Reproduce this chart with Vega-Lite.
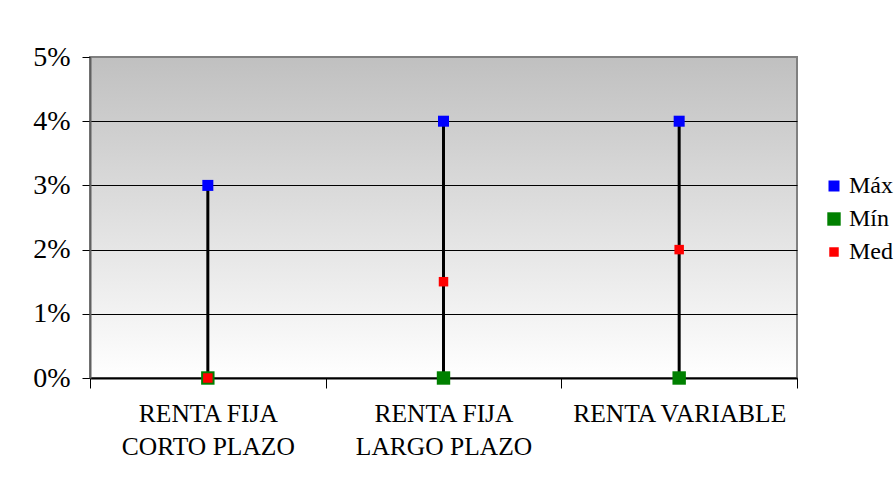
{
  "$schema": "https://vega.github.io/schema/vega-lite/v6.json",
  "width": 707,
  "height": 321,
  "autosize": {"type": "none"},
  "padding": {"left": 90, "top": 57, "right": 99, "bottom": 105},
  "background": "white",
  "view": {
    "fill": {"gradient": "linear", "x1": 0, "y1": 0, "x2": 0, "y2": 1,
      "stops": [{"offset": 0, "color": "#c0c0c0"}, {"offset": 1, "color": "#ffffff"}]},
    "stroke": "#808080",
    "strokeWidth": 2
  },
  "data": {
    "values": [
      {"cat": "RENTA FIJA|CORTO PLAZO", "serie": "Máx", "valor": 0.03},
      {"cat": "RENTA FIJA|CORTO PLAZO", "serie": "Mín", "valor": 0.0},
      {"cat": "RENTA FIJA|CORTO PLAZO", "serie": "Med", "valor": 0.0},
      {"cat": "RENTA FIJA|LARGO PLAZO", "serie": "Máx", "valor": 0.04},
      {"cat": "RENTA FIJA|LARGO PLAZO", "serie": "Mín", "valor": 0.0},
      {"cat": "RENTA FIJA|LARGO PLAZO", "serie": "Med", "valor": 0.015},
      {"cat": "RENTA VARIABLE", "serie": "Máx", "valor": 0.04},
      {"cat": "RENTA VARIABLE", "serie": "Mín", "valor": 0.0},
      {"cat": "RENTA VARIABLE", "serie": "Med", "valor": 0.02}
    ]
  },
  "encoding": {
    "x": {
      "field": "cat", "type": "nominal", "sort": null, "title": null,
      "scale": {"paddingInner": 0, "paddingOuter": 0},
      "axis": {
        "labelExpr": "split(datum.label, '|')",
        "labelAngle": 0,
        "labelLimit": 0,
        "labelFont": "Liberation Serif",
        "labelFontSize": 25.5,
        "labelColor": "black",
        "labelLineHeight": 33,
        "labelPadding": 13,
        "tickBand": "extent",
        "tickSize": 10,
        "tickColor": "black",
        "domainColor": "black",
        "domainWidth": 2,
        "grid": false
      }
    }
  },
  "layer": [
    {
      "mark": {"type": "rule", "color": "black", "strokeWidth": 3},
      "encoding": {
        "y": {"aggregate": "min", "field": "valor", "type": "quantitative", "title": null,
          "scale": {"domain": [0, 0.05]},
          "axis": {
            "format": ".0%",
            "values": [0, 0.01, 0.02, 0.03, 0.04, 0.05],
            "labelFont": "Liberation Serif",
            "labelFontSize": 28,
            "labelColor": "black",
            "labelPadding": 12,
            "tickSize": 8,
            "tickColor": "black",
            "domainColor": "#606060",
            "domainWidth": 2,
            "grid": true,
            "gridColor": {"expr": "datum.value >= 0.05 ? '#808080' : 'black'"},
            "gridWidth": 1,
            "gridOpacity": 1
          }
        },
        "y2": {"aggregate": "max", "field": "valor"}
      }
    },
    {
      "mark": {"type": "point", "shape": "square", "filled": true, "opacity": 1, "strokeWidth": 0},
      "encoding": {
        "y": {"field": "valor", "type": "quantitative", "title": null, "scale": {"domain": [0, 0.05]}},
        "color": {"field": "serie", "type": "nominal", "title": null,
          "scale": {"domain": ["Máx", "Mín", "Med"], "range": ["#0000ff", "#008000", "#ff0000"]},
          "legend": {
            "orient": "none", "legendX": 732, "legendY": 117,
            "labelFont": "Liberation Serif", "labelFontSize": 24, "labelColor": "black",
            "symbolType": "square", "rowPadding": 9, "padding": 0, "labelOffset": 3
          }
        },
        "size": {"field": "serie", "type": "nominal", "title": null,
          "scale": {"type": "ordinal", "domain": ["Máx", "Mín", "Med"], "range": [121, 180, 90]}},
        "order": {"field": "serie", "sort": "descending"}
      }
    }
  ]
}
